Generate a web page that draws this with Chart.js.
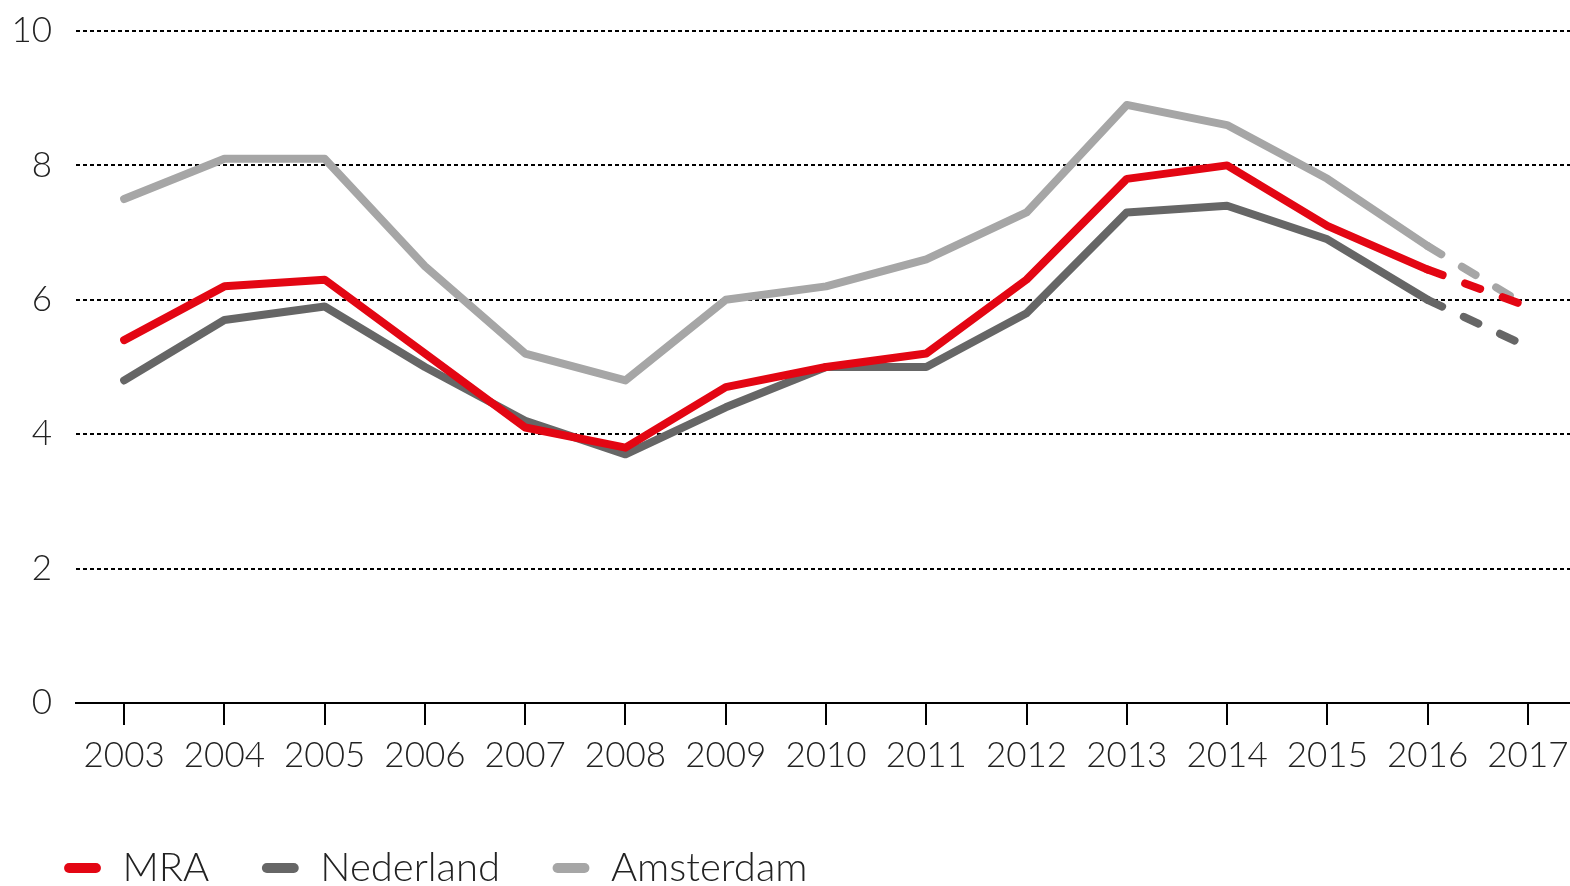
<!DOCTYPE html>
<html>
<head>
<meta charset="utf-8">
<script src="https://cdn.jsdelivr.net/npm/chart.js@4"></script>
<style>
  html, body { margin: 0; padding: 0; background: #fff; overflow: hidden; }
  #wrap { width: 1570px; height: 886px; position: relative; }
  canvas { display: block; }
</style>
</head>
<body>
<div id="wrap"><canvas id="werkloosheidChart"></canvas></div>
<script>
/* Data */
const years = [2003, 2004, 2005, 2006, 2007, 2008, 2009, 2010, 2011, 2012, 2013, 2014, 2015, 2016, 2017];
const mra = [5.4, 6.2, 6.3, 5.2, 4.1, 3.8, 4.7, 5.0, 5.2, 6.3, 7.8, 8.0, 7.1, 6.45, 5.9];
const nederland = [4.8, 5.7, 5.9, 5.0, 4.2, 3.7, 4.4, 5.0, 5.0, 5.8, 7.3, 7.4, 6.9, 6.0, 5.3];
const amsterdam = [7.5, 8.1, 8.1, 6.5, 5.2, 4.8, 6.0, 6.2, 6.6, 7.3, 8.9, 8.6, 7.8, 6.8, 5.9];
const yTicks = [0, 2, 4, 6, 8, 10];
// last point (2017) is a forecast -> dashed segment
const forecastFrom = years.length - 1;

const fontFamily = "Lato, 'Noto Sans', sans-serif";
const tickFont = { family: fontFamily, size: 35, weight: 300 };
const legendFont = { family: fontFamily, size: 40, weight: 300 };

function toPoints(values) {
  return years.map((x, i) => ({ x: x, y: values[i] }));
}

function makeDataset(label, values, color) {
  return {
    label: label,
    data: toPoints(values),
    borderColor: color,
    backgroundColor: color,
    borderWidth: 8,
    borderCapStyle: 'round',
    borderJoinStyle: 'round',
    pointRadius: 0,
    pointHoverRadius: 0,
    tension: 0,
    fill: false,
    segment: {
      borderDash: ctx => ctx.p1DataIndex === forecastFrom ? [16, 24] : undefined
    }
  };
}

const ctx = document.getElementById('werkloosheidChart').getContext('2d');

const chart = new Chart(ctx, {
  type: 'line',
  data: {
    datasets: [
      makeDataset('MRA', mra, '#e30613'),
      makeDataset('Nederland', nederland, '#666666'),
      makeDataset('Amsterdam', amsterdam, '#a6a6a6')
    ]
  },
  options: {
    responsive: true,
    maintainAspectRatio: false,
    animation: false,
    layout: {
      autoPadding: false,
      padding: { left: 11.5, top: 31, right: 0, bottom: -12 }
    },
    plugins: {
      tooltip: { enabled: false },
      legend: {
        position: 'bottom',
        align: 'start',
        labels: {
          usePointStyle: true,
          pointStyle: 'line',
          boxWidth: 40,
          boxHeight: 19,
          padding: 51,
          color: '#222',
          font: legendFont,
          // round pill markers like the original
          generateLabels: chart => Chart.defaults.plugins.legend.labels.generateLabels(chart)
            .map(item => Object.assign(item, { lineCap: 'round', lineWidth: 10 }))
        }
      }
    },
    scales: {
      x: {
        type: 'linear',
        min: 2002.52,
        max: 2017.42,
        afterBuildTicks: axis => { axis.ticks = years.map(v => ({ value: v })); },
        afterFit: axis => {
          axis.height = 94;
          axis.paddingLeft = 0;
          axis.paddingRight = 0;
        },
        border: { display: true, color: '#000', width: 2 },
        grid: {
          drawOnChartArea: false,
          drawTicks: true,
          tickLength: 22,
          color: '#000',
          lineWidth: 2
        },
        ticks: {
          autoSkip: false,
          maxRotation: 0,
          padding: 10,
          color: '#222',
          font: tickFont,
          callback: value => String(value)
        }
      },
      y: {
        min: 0,
        max: 10,
        afterBuildTicks: axis => { axis.ticks = yTicks.map(v => ({ value: v })); },
        afterFit: axis => {
          axis.width = 64.5;
          axis.paddingTop = 0;
          axis.paddingBottom = 0;
        },
        border: { display: false },
        grid: {
          drawTicks: false,
          color: ctx => ctx.tick.value === 0 ? 'rgba(0,0,0,0)' : '#000',
          lineWidth: 2
        },
        ticks: {
          padding: 24,
          color: '#222',
          font: tickFont
        }
      }
    }
  }
});

// dotted gridlines
chart.options.scales.y.border.dash = [4, 3];
chart.update();
</script>
</body>
</html>
